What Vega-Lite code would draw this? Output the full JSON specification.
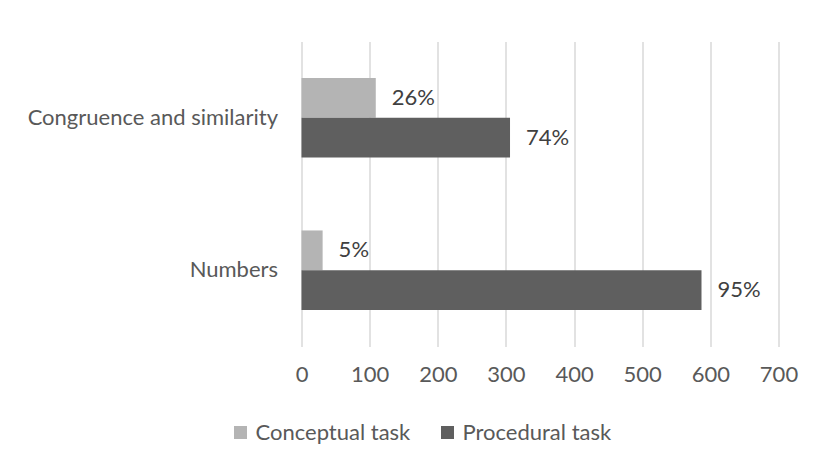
{
  "$schema": "https://vega.github.io/schema/vega-lite/v6.json",
  "width": 477,
  "height": 305,
  "autosize": {"type": "none"},
  "padding": {"left": 301.5, "top": 41.5, "right": 36.5, "bottom": 116.5},
  "background": "white",
  "config": {"view": {"stroke": null}, "font": "Lato"},
  "data": {
    "values": [
      {"category": "Congruence and similarity", "task": "Conceptual task", "count": 109, "label": "26%"},
      {"category": "Congruence and similarity", "task": "Procedural task", "count": 306, "label": "74%"},
      {"category": "Numbers", "task": "Conceptual task", "count": 31, "label": "5%"},
      {"category": "Numbers", "task": "Procedural task", "count": 587, "label": "95%"}
    ]
  },
  "encoding": {
    "y": {
      "field": "category",
      "type": "nominal",
      "sort": ["Congruence and similarity", "Numbers"],
      "scale": {"paddingInner": 0.478, "paddingOuter": 0.239},
      "axis": {
        "title": null,
        "domain": false,
        "ticks": false,
        "grid": false,
        "labelFontSize": 22,
        "labelColor": "#595959",
        "labelPadding": 24,
        "labelLimit": 0
      }
    },
    "yOffset": {
      "field": "task",
      "type": "nominal",
      "sort": ["Conceptual task", "Procedural task"]
    },
    "x": {
      "field": "count",
      "type": "quantitative",
      "scale": {"domain": [0, 700], "nice": false},
      "axis": {
        "title": null,
        "values": [0, 100, 200, 300, 400, 500, 600, 700],
        "domain": false,
        "ticks": false,
        "grid": true,
        "gridColor": "#d9d9d9",
        "gridWidth": 1.5,
        "labelFontSize": 22,
        "labelColor": "#595959",
        "labelPadding": 18,
        "labelFlush": false,
        "labelOverlap": false
      }
    }
  },
  "layer": [
    {
      "mark": {"type": "bar"},
      "encoding": {
        "color": {
          "field": "task",
          "type": "nominal",
          "sort": ["Conceptual task", "Procedural task"],
          "scale": {"domain": ["Conceptual task", "Procedural task"], "range": ["#b4b4b4", "#5f5f5f"]},
          "legend": {
            "title": null,
            "orient": "none",
            "legendX": -72,
            "legendY": 380,
            "direction": "horizontal",
            "symbolType": "square",
            "symbolSize": 170,
            "symbolStrokeWidth": 0,
            "labelFontSize": 22,
            "labelColor": "#595959",
            "labelOffset": 4,
            "columnPadding": 26
          }
        }
      }
    },
    {
      "mark": {"type": "text", "align": "left", "baseline": "middle", "dx": 16, "fontSize": 22, "color": "#404040"},
      "encoding": {"text": {"field": "label"}}
    }
  ]
}
